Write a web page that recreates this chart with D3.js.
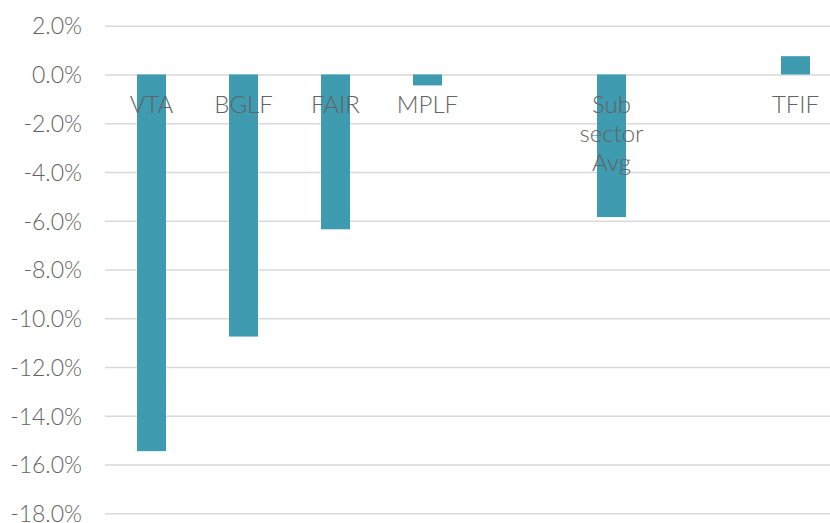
<!DOCTYPE html>
<html>
<head>
<meta charset="utf-8">
<script src="https://cdn.jsdelivr.net/npm/d3@7"></script>
<style>
  body { margin: 0; background: #fff; }
  .chart text { font-family: Lato, 'Open Sans', sans-serif; font-weight: 300; fill: #636363; }
</style>
</head>
<body>
<div class="chart"></div>
<script>
const categories = ['VTA', 'BGLF', 'FAIR', 'MPLF', 'gap1', 'Sub sector Avg', 'gap2', 'TFIF'];
const labels = ['VTA', 'BGLF', 'FAIR', 'MPLF', '', 'Sub|sector|Avg', '', 'TFIF'];
const values = [-15.45, -10.75, -6.35, -0.45, null, -5.85, null, 0.75];
const yTicks = [2, 0, -2, -4, -6, -8, -10, -12, -14, -16, -18];

const width = 830;
const height = 523;

const svg = d3
  .select('.chart')
  .append('svg')
  .attr('width', width)
  .attr('height', height);

const x = d3
  .scaleBand()
  .domain(categories)
  .range([105.5, 841.5])
  .paddingInner(0.685)
  .paddingOuter(0.3425);

const y = d3.scaleLinear().domain([-18, 2]).range([513.3, 25.7]);

// gridlines + tick labels
const yAxis = d3
  .axisLeft(y)
  .tickValues(yTicks)
  .tickSize(-(width - 105))
  .tickPadding(23)
  .tickFormat(d => d.toFixed(1) + '%');

const gy = svg
  .append('g')
  .attr('transform', 'translate(105,0)')
  .call(yAxis);

gy.select('.domain').remove();
gy.selectAll('.tick line').attr('stroke', '#d9d9d9').attr('stroke-width', 1.5);
gy.selectAll('.tick text').style('font-size', '23px').attr('dy', '0.36em');

// bars
const data = categories.map((c, i) => ({ cat: c, value: values[i], label: labels[i] }));

svg
  .append('g')
  .selectAll('rect')
  .data(data.filter(d => d.value !== null))
  .enter()
  .append('rect')
  .attr('x', d => x(d.cat))
  .attr('width', x.bandwidth())
  .attr('y', d => y(Math.max(0, d.value)))
  .attr('height', d => Math.abs(y(d.value) - y(0)))
  .attr('fill', '#3e9bb0');

// category labels near the zero line
const lbl = svg
  .append('g')
  .selectAll('text')
  .data(data.filter(d => d.label !== ''))
  .enter()
  .append('text')
  .attr('text-anchor', 'middle')
  .attr('x', d => x(d.cat) + x.bandwidth() / 2)
  .attr('y', y(0) + 39)
  .style('font-size', '24px');

lbl
  .selectAll('tspan')
  .data(d => d.label.split('|').map(t => ({ t, cx: x(d.cat) + x.bandwidth() / 2 })))
  .enter()
  .append('tspan')
  .attr('x', d => d.cx)
  .attr('dy', (d, i) => (i === 0 ? 0 : 29))
  .text(d => d.t);
</script>
</body>
</html>
